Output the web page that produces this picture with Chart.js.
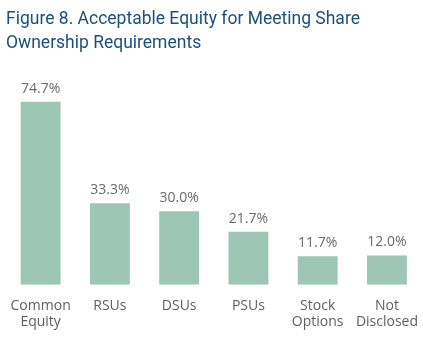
<!DOCTYPE html>
<html>
<head>
<meta charset="utf-8">
<script src="https://cdn.jsdelivr.net/npm/chart.js@4"></script>
<style>
  html, body { margin: 0; padding: 0; background: #fff; }
  #wrap { width: 423px; height: 347px; }
</style>
</head>
<body>
<div id="wrap"><canvas id="chart" width="423" height="347"></canvas></div>
<script>
const titleLines = ['Figure 8. Acceptable Equity for Meeting Share', 'Ownership Requirements']
const categories = [['Common', 'Equity'], 'RSUs', 'DSUs', 'PSUs', ['Stock', 'Options'], ['Not', 'Disclosed']]
const shares = [74.7, 33.3, 30.0, 21.7, 11.7, 12.0]

// writes the percentage above each bar
const valueLabels = {
    id: 'valueLabels',
    afterDatasetsDraw: (chart) => {
        const ctx = chart.ctx
        const meta = chart.getDatasetMeta(0)
        ctx.save()
        ctx.font = '14px "Open Sans"'
        ctx.fillStyle = '#6a6a6a'
        ctx.textAlign = 'center'
        ctx.textBaseline = 'middle'
        meta.data.forEach((bar, i) => {
            ctx.fillText(shares[i].toFixed(1) + '%', bar.x, bar.y - 13)
        })
        ctx.restore()
    }
}

const ctx = document.getElementById('chart').getContext('2d')
const myChart = new Chart(ctx, {
    type: 'bar',
    data: {
        labels: categories,
        datasets: [{
            data: shares,
            backgroundColor: '#9dc6b7',
            barPercentage: 0.576,
            categoryPercentage: 1
        }]
    },
    options: {
        responsive: false,
        animation: false,
        layout: { padding: { left: 6, right: 0, top: 0, bottom: 12 } },
        plugins: {
            legend: { display: false },
            tooltip: { enabled: false },
            title: {
                display: true,
                text: titleLines,
                align: 'start',
                color: '#1d4f7c',
                font: { family: 'Roboto', size: 17.5, weight: 'normal', lineHeight: 1.41 },
                padding: { top: 7, bottom: 8 }
            }
        },
        scales: {
            x: {
                grid: { display: false },
                border: { display: false },
                ticks: {
                    color: '#5e5e5e',
                    font: { family: 'Open Sans', size: 14, lineHeight: 1.15 },
                    padding: 5,
                    maxRotation: 0,
                    autoSkip: false
                }
            },
            y: {
                display: false,
                min: 0,
                max: 90
            }
        }
    },
    plugins: [valueLabels]
})
</script>
</body>
</html>
